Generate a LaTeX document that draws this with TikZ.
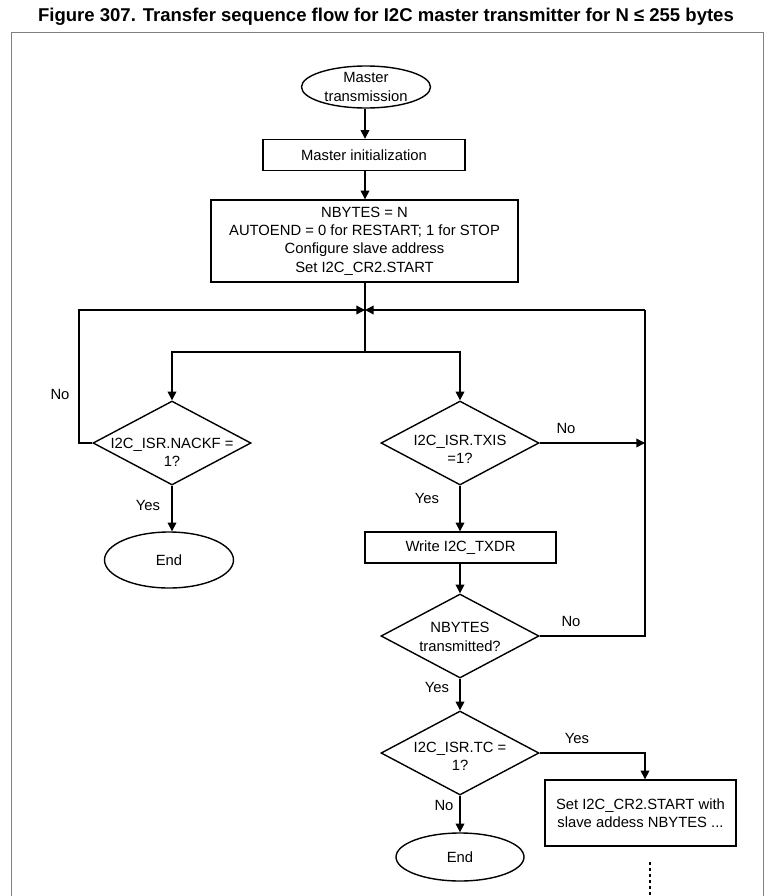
\documentclass[tikz,border=0pt]{standalone}
\usepackage{fontspec}
\setmainfont{Liberation Sans}
\usetikzlibrary{shapes.geometric, positioning, arrows.meta}

\newcommand{\pxu}{0.75pt}

\begin{document}
\begin{tikzpicture}[x=0.75pt, y=-0.75pt, line width=1.05pt,
    every node/.style={font=\fontsize{11.1}{13.7}\selectfont}]
    \tikzset{
        flowbox/.style={draw, rectangle, align=center, inner sep=0pt},
        term/.style={draw, ellipse, align=center, inner sep=0pt},
        decide/.style={draw, diamond, inner sep=0pt, minimum width=158*\pxu, minimum height=84*\pxu},
        dtext/.style={align=center, inner sep=0pt},
        flow/.style={-{Triangle[length=6.5pt, width=6.5pt]}},
    }
    \useasboundingbox (0,0) rectangle (769,896);

    % Title and frame
    \node[font=\fontsize{13.9}{16}\selectfont\bfseries] (title) at (386,17)
        {Figure 307. Transfer sequence flow for I2C master transmitter for N ≤ 255 bytes};
    \draw[gray, line width=0.75pt] (11,896) -- (11,32) -- (763,32) -- (763,896);

    % Shared coordinates
    \coordinate (J) at (365,310);   % loop join
    \coordinate (S) at (365,352);   % split
    \coordinate (L) at (79,310);    % left loop corner
    \coordinate (R) at (645,310);   % right loop corner
    \coordinate (D1) at (650,862);
    \coordinate (D2) at (650,896);

    % 1. Start and set-up
    \node[term, minimum width=129*\pxu, minimum height=42*\pxu] (start) at (366,87)
        {Master\\transmission};
    \node[flowbox, minimum width=202*\pxu, minimum height=31*\pxu] (init) at (364,155)
        {Master initialization};
    \node[flowbox, minimum width=307*\pxu, minimum height=82*\pxu] (cfg) at (364.5,241)
        {NBYTES = N\\AUTOEND = 0 for RESTART; 1 for STOP\\Configure slave address\\Set I2C\_CR2.START};

    % 2. Left branch (NACKF)
    \node[decide] (nackf) at (172,443) {};
    \node[dtext] (nackf txt) at (172,452) {I2C\_ISR.NACKF =\\1?};
    \node[term, minimum width=129*\pxu, minimum height=56*\pxu] (end1) at (169,560) {End};

    % 3. Right branch (TXIS, TXDR, NBYTES, TC)
    \node[decide] (txis) at (460,443) {};
    \node[dtext] (txis txt) at (460,449) {I2C\_ISR.TXIS\\=1?};
    \node[flowbox, minimum width=191*\pxu, minimum height=31*\pxu] (write) at (460.5,547.5)
        {Write I2C\_TXDR};
    \node[decide] (nbytes) at (460,636) {};
    \node[dtext] (nbytes txt) at (460,637) {NBYTES\\transmitted?};
    \node[decide] (tc) at (460,753) {};
    \node[dtext] (tc txt) at (460,756) {I2C\_ISR.TC =\\1?};
    \node[term, minimum width=128*\pxu, minimum height=48*\pxu] (end2) at (460,857) {End};
    \node[flowbox, minimum width=191*\pxu, minimum height=66*\pxu] (setbox) at (640.5,813)
        {Set I2C\_CR2.START with\\slave addess NBYTES ...};

    % 4. Yes / No labels
    \node (no1) at (60,394) {No};
    \node (yes1) at (148,505) {Yes};
    \node (no2) at (566,428) {No};
    \node (yes2) at (427,498) {Yes};
    \node (no3) at (571,621) {No};
    \node (yes3) at (437,687) {Yes};
    \node (yes4) at (577,738) {Yes};
    \node (no4) at (444,805) {No};

    % 5. Connectors
    \draw[flow] (S |- start.south) -- (S |- init.north);
    \draw[flow] (S |- init.south) -- (S |- cfg.north);
    \draw (S |- cfg.south) -- (S);
    \draw[flow] (S) -| (nackf.north);
    \draw[flow] (S) -| (txis.north);
    \draw[flow] (nackf.west) -| (L) -- (J);
    \draw[flow] (nackf.south) -- (nackf.south |- end1.north);
    \draw[flow] (txis.south) -- (write.north -| txis.south);
    \draw[flow] (txis.east) -- (txis.east -| R);
    \draw[flow] (write.south -| txis.south) -- (nbytes.north);
    \draw (nbytes.east) -| (R);
    \draw[flow] (R) -- (J);
    \draw[flow] (nbytes.south) -- (tc.north);
    \draw[flow] (tc.south) -- (end2.north);
    \draw[flow] (tc.east) -| (R |- setbox.north);
    \draw[line width=0.8pt, dash pattern=on 2.5pt off 2pt] (D1) -- (D2);

\end{tikzpicture}
\end{document}
